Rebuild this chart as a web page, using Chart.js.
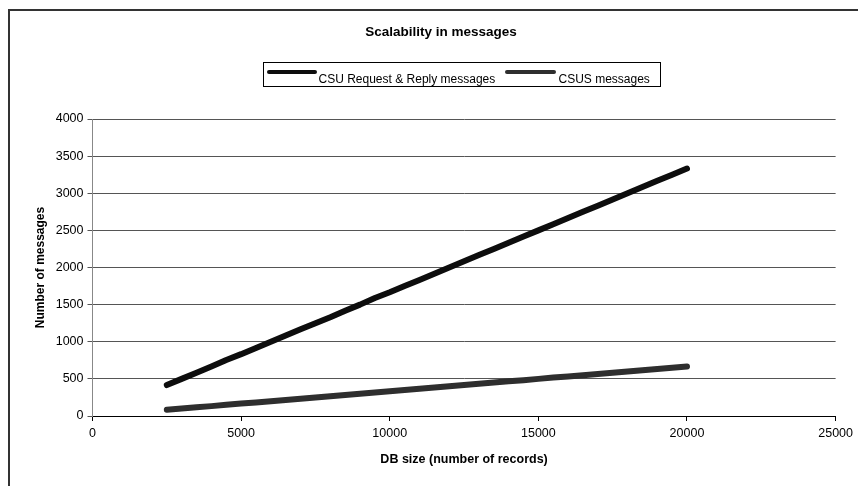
<!DOCTYPE html>
<html>
<head>
<meta charset="utf-8">
<script src="https://cdn.jsdelivr.net/npm/chart.js@4.4.1/dist/chart.umd.min.js"></script>
<style>
  html, body { margin: 0; padding: 0; background: #fff; }
  #wrap { width: 858px; height: 486px; position: relative; }
</style>
</head>
<body>
<div id="wrap"><canvas id="c" width="858" height="486"></canvas></div>
<script>
// ---- data ----
const chartTitle = "Scalability in messages";
const xAxisTitle = "DB size (number of records)";
const yAxisTitle = "Number of messages";
const seriesNames = ["CSU Request & Reply messages", "CSUS messages"];
const dbSizes = [2500, 3000, 3500, 4000, 4500, 5000, 5500, 6000, 6500, 7000, 7500, 8000,
  8500, 9000, 9500, 10000, 10500, 11000, 11500, 12000, 12500, 13000, 13500, 14000,
  14500, 15000, 15500, 16000, 16500, 17000, 17500, 18000, 18500, 19000, 19500, 20000];
const csuRequestReply = [417, 500, 583, 667, 755, 833, 917, 1000, 1083, 1167, 1250, 1330,
  1417, 1500, 1590, 1667, 1750, 1833, 1917, 2000, 2083, 2167, 2250, 2333,
  2417, 2500, 2583, 2667, 2750, 2833, 2917, 3000, 3083, 3167, 3250, 3333];
const csusMessages = [83, 100, 117, 133, 150, 167, 183, 200, 217, 233, 250, 267,
  283, 300, 317, 333, 350, 367, 383, 400, 417, 433, 450, 467,
  483, 500, 517, 533, 550, 567, 583, 600, 617, 633, 650, 667];
const xTicks = [0, 5000, 10000, 15000, 20000, 25000];
const yTicks = [0, 500, 1000, 1500, 2000, 2500, 3000, 3500, 4000];

const seriesColors = ["#0d0d0d", "#2e2e2e"];
const FONT = "'Liberation Sans', Arial, sans-serif";

function pts(vals) { return dbSizes.map((x, i) => ({ x: x, y: vals[i] })); }

const decorPlugin = {
  id: 'decor',
  beforeDraw(chart) {
    const ctx = chart.ctx;
    ctx.save();
    ctx.fillStyle = '#fff';
    ctx.fillRect(0, 0, chart.width, chart.height);
    ctx.restore();
  },
  afterDraw(chart) {
    const ctx = chart.ctx;
    ctx.save();
    // outer frame
    ctx.strokeStyle = '#333';
    ctx.lineWidth = 2;
    ctx.beginPath();
    ctx.moveTo(9, chart.height + 2);
    ctx.lineTo(9, 10);
    ctx.lineTo(chart.width + 2, 10);
    ctx.stroke();
    // title
    ctx.fillStyle = '#000';
    ctx.font = "bold 13.5px " + FONT;
    ctx.textAlign = 'center';
    ctx.textBaseline = 'middle';
    ctx.fillText(chartTitle, 441, 32.5);
    // legend box
    ctx.strokeStyle = '#000';
    ctx.lineWidth = 1;
    ctx.strokeRect(263.5, 62.5, 397, 24);
    const items = [
      { x0: 267, x1: 317, tx: 318.5 },
      { x0: 505, x1: 556, tx: 558.5 }
    ];
    ctx.font = "12px " + FONT;
    ctx.textAlign = 'left';
    ctx.textBaseline = 'alphabetic';
    chart.data.datasets.forEach((ds, i) => {
      const it = items[i];
      ctx.strokeStyle = ds.borderColor;
      ctx.lineWidth = 4;
      ctx.lineCap = 'round';
      ctx.beginPath();
      ctx.moveTo(it.x0 + 2, 72);
      ctx.lineTo(it.x1 - 2, 72);
      ctx.stroke();
      ctx.fillStyle = '#000';
      ctx.fillText(ds.label, it.tx, 82.5);
    });
    ctx.restore();
  }
};

new Chart(document.getElementById('c'), {
  type: 'line',
  data: {
    datasets: [
      { label: seriesNames[0], data: pts(csuRequestReply), borderColor: seriesColors[0],
        borderWidth: 6, pointRadius: 0, borderCapStyle: 'round', borderJoinStyle: 'round', tension: 0, fill: false },
      { label: seriesNames[1], data: pts(csusMessages), borderColor: seriesColors[1],
        borderWidth: 6, pointRadius: 0, borderCapStyle: 'round', borderJoinStyle: 'round', tension: 0, fill: false }
    ]
  },
  options: {
    responsive: false,
    animation: false,
    devicePixelRatio: 1,
    layout: { padding: { left: 0, right: 21, top: 119, bottom: 0 } },
    plugins: {
      legend: { display: false },
      title: { display: false },
      tooltip: { enabled: false }
    },
    scales: {
      x: {
        type: 'linear',
        min: 0, max: 25000,
        afterBuildTicks(scale) { scale.ticks = xTicks.map(v => ({ value: v })); },
        afterFit(scale) { scale.height = 70; },
        ticks: { color: '#000', font: { family: FONT, size: 12.5 }, padding: 5, maxRotation: 0,
                 callback: (v) => String(v) },
        grid: { drawOnChartArea: false, drawTicks: true, tickLength: 5, color: '#000' },
        border: { display: true, color: '#000', width: 1 },
        title: { display: true, text: xAxisTitle, color: '#000',
                 font: { family: FONT, size: 12.5, weight: 'bold' }, padding: { top: 0, bottom: 19 } }
      },
      y: {
        type: 'linear',
        min: 0, max: 4000,
        afterBuildTicks(scale) { scale.ticks = yTicks.map(v => ({ value: v })); },
        afterFit(scale) { scale.width = 92.5; },
        ticks: { color: '#000', font: { family: FONT, size: 12.5 }, padding: 4,
                 callback: (v) => String(v) },
        grid: { color: '#555', lineWidth: 1, tickLength: 5 },
        border: { display: true, color: '#888', width: 1 },
        title: { display: true, text: yAxisTitle, color: '#000',
                 font: { family: FONT, size: 12, weight: 'bold' }, padding: { top: 33, bottom: 0 } }
      }
    }
  },
  plugins: [decorPlugin]
});
</script>
</body>
</html>
